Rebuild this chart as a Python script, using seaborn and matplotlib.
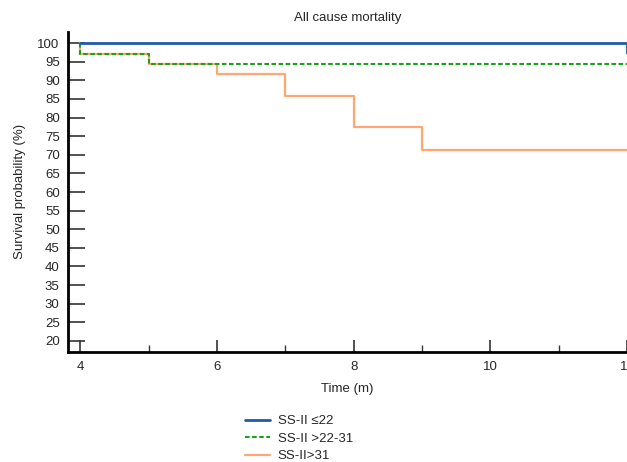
import matplotlib
matplotlib.use("Agg")
import matplotlib.pyplot as plt
import seaborn as sns
import pandas as pd
from matplotlib.ticker import MultipleLocator

sns.set_style("white")
plt.rcParams['font.family'] = ['Liberation Sans', 'DejaVu Sans']

# Data (Kaplan-Meier step values)
t_low = [4, 12]
s_low = [100, 97.3]
t_mid = [4, 4, 5, 12]
s_mid = [100, 97.1, 94.3, 94.3]
t_high = [4, 4, 5, 6, 7, 8, 9, 12]
s_high = [100, 97.1, 94.3, 91.6, 85.8, 77.4, 71.3, 71.3]
labels = ["SS-II \u226422", "SS-II >22-31", "SS-II>31"]
y_ticks = list(range(20, 101, 5))
x_ticks = [4, 6, 8, 10, 12]

fig = plt.figure(figsize=(6.27, 4.62), dpi=100)
ax = fig.add_axes([0.1085, 0.2388, 1.0 - 0.1085, 0.6919])

df_high = pd.DataFrame({"t": t_high, "s": s_high})
df_mid = pd.DataFrame({"t": t_mid, "s": s_mid})
df_low = pd.DataFrame({"t": t_low, "s": s_low})

sns.lineplot(data=df_high, x="t", y="s", ax=ax, drawstyle="steps-post", sort=False,
             estimator=None, color="#ffa772", lw=1.6, label=labels[2], zorder=2)
sns.lineplot(data=df_mid, x="t", y="s", ax=ax, drawstyle="steps-post", sort=False,
             estimator=None, color="#1aa31a", lw=1.5, dashes=False, label=labels[1], zorder=3)
ax.lines[-1].set_linestyle((0, (2.2, 1.2)))
sns.lineplot(data=df_low, x="t", y="s", ax=ax, drawstyle="steps-post", sort=False,
             estimator=None, color="#1f5ba6", lw=2.0, label=labels[0], zorder=4)

ax.set_xlim(3.82, 12)
ax.set_ylim(17.1, 103)
ax.set_yticks(y_ticks)
ax.set_xticks(x_ticks)
ax.xaxis.set_minor_locator(MultipleLocator(1))
ax.tick_params(axis="y", direction="in", length=12, width=1.2, color="#333333",
               labelsize=9.5, pad=6, left=True)
ax.tick_params(axis="x", which="major", direction="in", length=9, width=1.2,
               color="#333333", labelsize=9.5, pad=7, bottom=True)
ax.tick_params(axis="x", which="minor", direction="in", length=5, width=1.0,
               color="#333333", bottom=True)

for side in ["top", "right"]:
    ax.spines[side].set_visible(False)
for side in ["left", "bottom"]:
    ax.spines[side].set_linewidth(2.0)
    ax.spines[side].set_color("black")

ax.set_xlabel("Time (m)", fontsize=9.5, labelpad=7)
ax.set_ylabel("Survival probability (%)", fontsize=9.5, labelpad=8)
ax.set_title("All cause mortality", fontsize=9.5, pad=8)

handles, labs = ax.get_legend_handles_labels()
order = [labs.index(l) for l in labels]
ax.legend([handles[i] for i in order], [labs[i] for i in order],
          loc="upper left", bbox_to_anchor=(0.383, 0.113), bbox_transform=fig.transFigure,
          frameon=False, fontsize=9.5, handlelength=1.9, handletextpad=0.55,
          labelspacing=0.4, borderaxespad=0)

fig.savefig("out.png", dpi=100)
